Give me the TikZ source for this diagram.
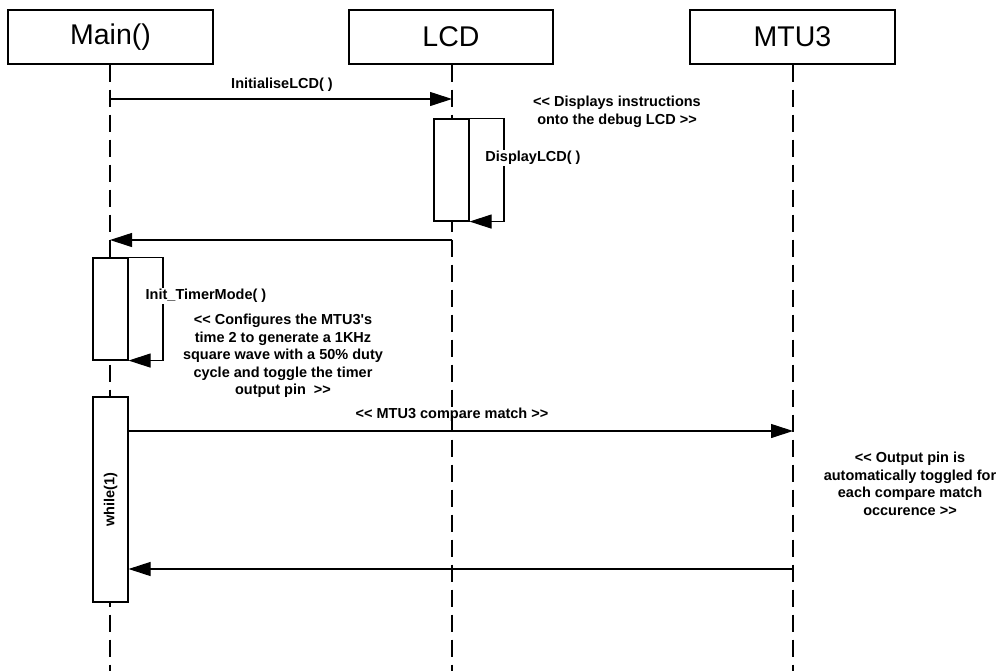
\documentclass[tikz,border=0pt]{standalone}
\usepackage{fontspec}
\setmainfont{Liberation Sans}[Ligatures=TeXOff]
\usetikzlibrary{arrows.meta}
\begin{document}
\begin{tikzpicture}[x=1pt,y=-1pt, line width=1.1pt,
  header/.style={draw, minimum width=205pt, minimum height=54pt, font=\fontsize{28.5}{34}\selectfont, inner sep=0pt},
  lifeline/.style={dash pattern=on 17pt off 8pt},
  act/.style={draw, fill=white, minimum width=35pt, inner sep=0pt},
  msg/.style={-{Triangle[length=22pt,width=14pt]}},
  lbl/.style={font=\fontsize{14.5}{17.5}\selectfont\bfseries, inner sep=1pt, align=center},
  ]
\useasboundingbox (0,0) rectangle (1002,670);
% headers
\node[header] (main) at (110.5,37) {Main()};
\node[header, minimum width=204pt] (lcd) at (451,37) {LCD};
\node[header] (mtu) at (792.5,37) {MTU3};
% lifelines
\coordinate (mainbot) at (110,672);
\coordinate (lcdbot) at (452,672);
\coordinate (mtubot) at (793,672);
\draw[lifeline] (main.south -| mainbot) -- (mainbot);
\draw[lifeline] (lcd.south -| lcdbot) -- (lcdbot);
\draw[lifeline] (mtu.south -| mtubot) -- (mtubot);
% activation boxes
\node[act, minimum height=102pt] (lcdact) at (451.5,170) {};
\node[act, minimum height=102pt] (mainact) at (110.5,309) {};
\node[act, minimum height=205pt] (whileact) at (110.5,499.5) {};
% messages
\draw[msg] (mainbot |- 0,99) -- (lcdbot |- 0,99);
\node[lbl] (l1) at (282,85) {InitialiseLCD( )};
\node[lbl] (n1) at (617,112) {<< Displays instructions\\onto the debug LCD >>};
\coordinate (lcdloop) at (504,0);
\draw[msg] (lcdact.north east) -- (lcdact.north east -| lcdloop) -- (lcdact.south east -| lcdloop) -- (lcdact.south east);
\node[lbl, fill=white] (l2) at (533,158) {DisplayLCD( )};
\draw[msg] (lcdbot |- 0,240) -- (mainbot |- 0,240);
\coordinate (mainloop) at (163,0);
\draw[msg] (mainact.north east) -- (mainact.north east -| mainloop) -- (mainact.south east -| mainloop) -- (mainact.south east);
\node[lbl, fill=white] (l3) at (206,296) {Init\_TimerMode( )};
\node[lbl] (n2) at (283,356) {<< Configures the MTU3's\\time 2 to generate a 1KHz\\square wave with a 50\% duty\\cycle and toggle the timer\\output pin\ \ >>};
\node[lbl, rotate=90] (l4) at (whileact.center) {while(1)};
\draw[msg] (whileact.east |- 0,431) -- (mtubot |- 0,431);
\node[lbl] (l5) at (452,415) {<< MTU3 compare match >>};
\draw[msg] (mtubot |- 0,569) -- (whileact.east |- 0,569);
\node[lbl] (n3) at (910,484) {<< Output pin is\\automatically toggled for\\each compare match\\occurence >>};
\end{tikzpicture}
\end{document}
